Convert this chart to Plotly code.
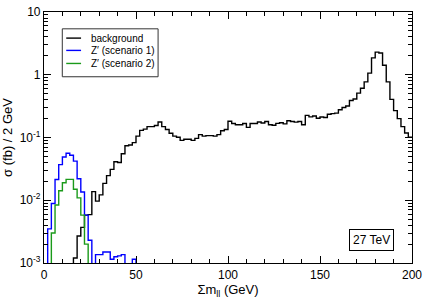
import plotly.graph_objects as go

# 2 GeV bins from 0 to 200 GeV
bin_edges = [2 * i for i in range(101)]

# values below 1e-3 (off the visible range) are written as 1e-4
background = [
    1e-4, 1e-4, 1e-4, 1e-4, 1e-4, 1e-4, 1e-4, 1e-4, 0.0012, 0.0027,
    0.0037, 0.0058, 0.0059, 0.0137, 0.0097, 0.0122, 0.0186, 0.0247, 0.031, 0.041,
    0.040, 0.055, 0.074, 0.076, 0.083, 0.105, 0.130, 0.136, 0.149, 0.149,
    0.155, 0.177, 0.149, 0.134, 0.117, 0.105, 0.101, 0.090, 0.094, 0.094,
    0.090, 0.097, 0.111, 0.105, 0.107, 0.107, 0.105, 0.111, 0.128, 0.134,
    0.182, 0.167, 0.160, 0.160, 0.167, 0.145, 0.167, 0.167, 0.177, 0.170,
    0.180, 0.160, 0.157, 0.168, 0.172, 0.165, 0.185, 0.180, 0.176, 0.180,
    0.160, 0.225, 0.213, 0.220, 0.203, 0.212, 0.208, 0.235, 0.240, 0.245,
    0.277, 0.300, 0.317, 0.389, 0.410, 0.510, 0.610, 0.770, 1.06, 1.86,
    2.29, 2.22, 1.42, 0.77, 0.405, 0.268, 0.200, 0.149, 0.118, 0.101,
]

zprime_s1 = [
    1e-4, 0.0035, 0.0089, 0.0214, 0.037, 0.049, 0.056, 0.052, 0.042, 0.022,
    0.0135, 0.0058, 0.0023, 1e-4, 0.00136, 0.00136, 0.0015, 0.0015, 0.00115, 0.00126,
    0.0013, 0.00136, 1e-4, 1e-4, 0.00115,
] + [1e-4] * 75

zprime_s2 = [
    1e-4, 1e-4, 0.0030, 0.0084, 0.0142, 0.019, 0.0215, 0.0215, 0.015, 0.0109,
    0.0058, 0.0020,
] + [1e-4] * 88

series_names = ["background", "Z\u2032 (scenario 1)", "Z\u2032 (scenario 2)"]
series_colors = ["#000000", "#0000ff", "#1a9a1a"]
series_values = [background, zprime_s1, zprime_s2]

y_tickvals = [1e-3, 1e-2, 1e-1, 1, 10]
y_ticktext = ["10<sup>-3</sup>", "10<sup>-2</sup>", "10<sup>-1</sup>", "1", "10"]
x_tickvals = [0, 50, 100, 150, 200]

FONT = "Liberation Sans, Arial, Helvetica, sans-serif"

fig = go.Figure()
for name, col, vals in zip(series_names, series_colors, series_values):
    fig.add_trace(go.Scatter(
        x=bin_edges, y=vals + [vals[-1]], mode="lines", name=name,
        line=dict(color=col, width=1.4, shape="hv"), showlegend=False,
        hoverinfo="skip",
    ))

# manual legend (box, line samples, labels)
lx0, lx1, ly0, ly1 = 0.0497, 0.310, 0.742, 0.933
fig.add_shape(type="rect", xref="paper", yref="paper", x0=lx0, x1=lx1, y0=ly0, y1=ly1,
              line=dict(color="#333333", width=1), fillcolor="white", layer="above")
row_y = [0.896, 0.847, 0.795]
for name, col, yy in zip(series_names, series_colors, row_y):
    fig.add_shape(type="line", xref="paper", yref="paper", x0=0.0604, x1=0.1007,
                  y0=yy, y1=yy, line=dict(color=col, width=1.4), layer="above")
    fig.add_annotation(xref="paper", yref="paper", x=0.122, y=yy, text=name,
                       showarrow=False, xanchor="left", yanchor="middle",
                       font=dict(size=10, color="black", family=FONT))

fig.add_annotation(xref="paper", yref="paper", x=0.889, y=0.092, text="27 TeV",
                   showarrow=False, xanchor="center", yanchor="middle",
                   font=dict(size=12, color="black", family=FONT),
                   bordercolor="black", borderwidth=1, borderpad=3, bgcolor="white")

fig.update_xaxes(
    range=[0, 200], tickmode="array", tickvals=x_tickvals,
    ticks="inside", ticklen=7, tickwidth=1, tickcolor="black",
    minor=dict(ticks="inside", ticklen=4, dtick=10, tickcolor="black", showgrid=False),
    showline=True, linecolor="black", linewidth=1.2, mirror="ticks",
    showgrid=False, zeroline=False, ticklabeloverflow="allow",
    tickfont=dict(size=12, color="black", family=FONT),
    title=dict(text="\u03a3m<sub>ll</sub> (GeV)", font=dict(size=13, color="black", family=FONT), standoff=4),
)
fig.update_yaxes(
    type="log", range=[-3, 1], tickmode="array", tickvals=y_tickvals, ticktext=y_ticktext,
    ticks="inside", ticklen=7, tickwidth=1, tickcolor="black",
    minor=dict(ticks="inside", ticklen=4, dtick="D1", tickcolor="black", showgrid=False),
    showline=True, linecolor="black", linewidth=1.2, mirror="ticks",
    showgrid=False, zeroline=False, ticklabeloverflow="allow",
    tickfont=dict(size=12, color="black", family=FONT),
    title=dict(text="\u03c3 (fb) / 2 GeV", font=dict(size=13, color="black", family=FONT), standoff=6),
)
fig.update_layout(
    width=427, height=300,
    margin=dict(l=43, r=12, t=5, b=33),
    paper_bgcolor="white", plot_bgcolor="white",
    showlegend=False, hovermode=False,
)
fig.write_html("out.html", config={"displayModeBar": False},
               post_script="document.body.style.margin='0px';document.body.style.overflow='hidden';")
